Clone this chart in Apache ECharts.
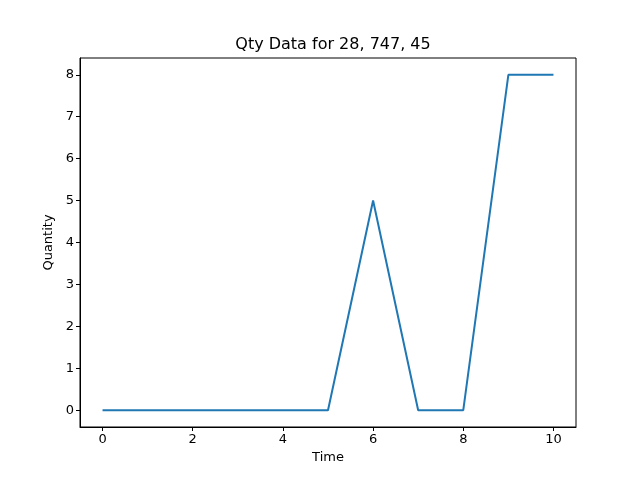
<!DOCTYPE html>
<html>
<head>
<meta charset="utf-8">
<script src="https://cdn.jsdelivr.net/npm/echarts@6/dist/echarts.min.js"></script>
<style>
  html, body { margin: 0; padding: 0; background: #fff; }
  #chart { width: 640px; height: 480px; }
</style>
</head>
<body>
<div id="chart"></div>
<script>
const times = [0, 1, 2, 3, 4, 5, 6, 7, 8, 9, 10];
const quantities = [0, 0, 0, 0, 0, 0, 5, 0, 0, 8, 8];
const xTicks = [0, 2, 4, 6, 8, 10];
const yTicks = [0, 1, 2, 3, 4, 5, 6, 7, 8];

document.addEventListener('DOMContentLoaded', () => {
  const chart = echarts.init(document.getElementById('chart'));
  const font = 'DejaVu Sans';

  chart.setOption({
    animation: false,
    title: {
      text: 'Qty Data for 28, 747, 45',
      left: 328,
      top: 32,
      textAlign: 'center',
      textStyle: { fontFamily: font, fontSize: 16, fontWeight: 'normal', color: '#000' }
    },
    grid: {
      left: 80,
      right: 64,
      top: 58,
      bottom: 53,
      show: true,
      borderColor: '#000',
      borderWidth: 1
    },
    xAxis: {
      type: 'value',
      min: -0.5,
      max: 10.5,
      name: 'Time',
      nameLocation: 'middle',
      nameGap: 24,
      nameTextStyle: { fontFamily: font, fontSize: 13, color: '#000' },
      axisLine: { show: true, onZero: false, lineStyle: { color: '#000' } },
      axisTick: { show: true, customValues: xTicks, length: 4, lineStyle: { color: '#000' } },
      axisLabel: { customValues: xTicks, fontFamily: font, fontSize: 13, color: '#000', margin: 6 },
      splitLine: { show: false }
    },
    yAxis: {
      type: 'value',
      min: -0.4,
      max: 8.4,
      name: 'Quantity',
      nameLocation: 'middle',
      nameGap: 25,
      nameTextStyle: { fontFamily: font, fontSize: 13, color: '#000' },
      axisLine: { show: true, onZero: false, lineStyle: { color: '#000' } },
      axisTick: { show: true, customValues: yTicks, length: 4, lineStyle: { color: '#000' } },
      axisLabel: { customValues: yTicks, fontFamily: font, fontSize: 13, color: '#000', margin: 6 },
      splitLine: { show: false }
    },
    series: [{
      type: 'line',
      data: times.map((t, i) => [t, quantities[i]]),
      showSymbol: false,
      lineStyle: { color: '#1f77b4', width: 2 },
      itemStyle: { color: '#1f77b4' }
    }]
  });
});
</script>
</body>
</html>
